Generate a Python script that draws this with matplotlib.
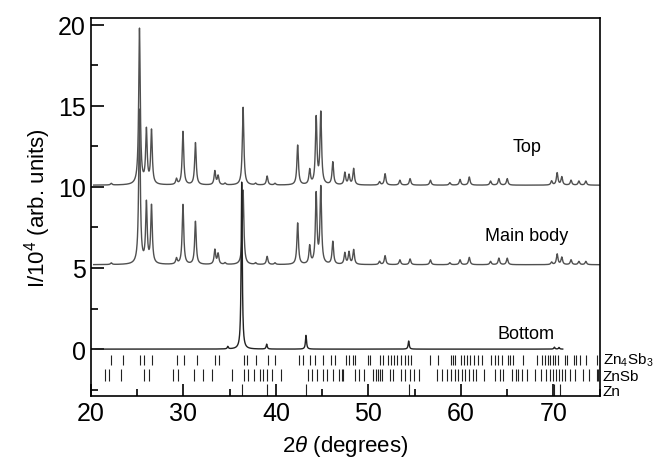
"""
XRD patterns of the Zn4Sb3 ingot (top / main body / bottom) with reference lines
"""

import numpy as np
import matplotlib.pyplot as plt
from matplotlib.ticker import MultipleLocator

plt.rcParams['font.family'] = ['Liberation Sans', 'DejaVu Sans']
plt.rcParams['mathtext.fontset'] = 'custom'
plt.rcParams['mathtext.rm'] = 'Liberation Sans'
plt.rcParams['mathtext.it'] = 'Liberation Sans:italic'

# peak positions (2theta), shared by top / main body
peak_pos = [22.2, 25.25, 26.0, 26.55, 29.25, 29.95, 31.3, 33.4, 33.75, 34.5,
            36.45, 37.8, 39.05, 39.9, 42.35, 43.65, 44.35, 44.85, 46.15, 47.45,
            47.9, 48.4, 51.2, 51.8, 53.4, 54.5, 56.7, 58.8, 59.9, 60.9,
            63.2, 64.1, 65.0, 69.8, 70.4, 70.9, 71.9, 72.75, 73.5]
# peak heights above background
top_h = [0.1, 9.6, 3.3, 3.3, 0.35, 3.3, 2.6, 0.85, 0.55, 0.1,
         4.8, 0.1, 0.55, 0.1, 2.45, 0.9, 4.1, 4.4, 1.4, 0.75,
         0.6, 1.0, 0.2, 0.7, 0.3, 0.4, 0.3, 0.15, 0.35, 0.5,
         0.25, 0.4, 0.4, 0.25, 0.75, 0.5, 0.3, 0.25, 0.25]
main_h = [0.1, 9.5, 3.7, 3.55, 0.35, 3.7, 2.65, 0.9, 0.65, 0.1,
          4.6, 0.1, 0.5, 0.1, 2.55, 1.1, 4.3, 4.7, 1.4, 0.7,
          0.75, 0.9, 0.2, 0.55, 0.3, 0.35, 0.3, 0.12, 0.3, 0.45,
          0.2, 0.4, 0.4, 0.15, 0.65, 0.45, 0.3, 0.2, 0.2]
top_bg = 10.1
main_bg = 5.2

# bottom (Zn-rich) pattern
bottom_pos = [34.8, 36.3, 39.0, 43.25, 54.35, 70.1, 70.6]
bottom_h = [0.15, 10.3, 0.3, 0.85, 0.5, 0.12, 0.1]

# reference line positions
zn4sb3_ref = [22.2, 23.5, 25.3, 25.7, 26.6, 29.3, 30.1, 31.5, 33.4, 33.8,
              36.6, 36.9, 37.8, 39.1, 39.9, 42.5, 42.9, 43.7, 44.2, 45.1,
              46.0, 46.4, 47.6, 47.9, 48.3, 48.6, 50.0, 50.2, 51.2, 51.6,
              52.1, 52.4, 52.8, 53.1, 53.5, 54.0, 54.3, 54.6, 56.7, 57.5,
              58.9, 59.1, 59.4, 60.0, 60.3, 60.7, 61.0, 61.4, 61.8, 62.3,
              63.3, 63.7, 64.0, 64.4, 65.1, 65.3, 65.6, 66.7, 68.2, 68.8,
              69.1, 69.4, 69.6, 69.9, 70.2, 70.5, 71.2, 71.5, 72.2, 72.4,
              72.9, 73.5, 74.7]
znsb_ref = [21.5, 22.0, 23.2, 25.7, 26.3, 28.9, 29.4, 31.1, 32.1, 33.1,
            35.3, 36.6, 37.0, 37.6, 38.3, 38.6, 39.0, 39.6, 40.6, 43.5,
            43.9, 44.4, 45.1, 45.5, 46.2, 46.8, 47.1, 47.3, 48.5, 49.0,
            49.5, 50.5, 50.8, 51.0, 51.3, 51.5, 52.3, 52.7, 53.5, 54.0,
            54.5, 54.9, 55.5, 57.4, 57.9, 58.5, 58.9, 59.4, 59.7, 60.1,
            60.4, 60.9, 61.3, 61.6, 62.5, 63.7, 64.2, 64.5, 65.5, 65.9,
            66.2, 66.6, 67.1, 68.0, 68.7, 69.2, 69.6, 70.0, 70.3, 70.6,
            70.9, 71.3, 71.8, 72.3, 73.2, 73.8, 74.7, 74.85]
zn_ref = [36.3, 38.99, 43.23, 54.34, 70.07, 70.66]


def profile(x, pos, h, w):
    y = np.zeros_like(x)
    for p, a in zip(pos, h):
        y += a / (1 + ((x - p) / w) ** 2)
    return y


x = np.linspace(20.3, 75, 4000)
xb = np.linspace(20.5, 71, 4000)

fig = plt.figure(figsize=(6.54, 4.64), dpi=100)
ax = fig.add_axes([0.139, 0.144, 0.778, 0.815])

ax.plot(x, top_bg + profile(x, peak_pos, top_h, 0.1), color='#505050', lw=1.0)
ax.plot(x, main_bg + profile(x, peak_pos, main_h, 0.1), color='#505050', lw=1.0)
ax.plot(xb, profile(xb, bottom_pos, bottom_h, 0.07), color='#222222', lw=1.0)

ax.vlines(zn4sb3_ref, -1.0, -0.35, color='#222222', lw=0.8)
ax.vlines(znsb_ref, -1.98, -1.23, color='#222222', lw=0.8)
ax.vlines(zn_ref, -2.9, -2.16, color='#222222', lw=0.8)

ax.text(67.1, 12.5, 'Top', ha='center', va='center', fontsize=13)
ax.text(67.1, 7.0, 'Main body', ha='center', va='center', fontsize=13)
ax.text(67.0, 0.95, 'Bottom', ha='center', va='center', fontsize=13)

ax.text(1.006, -0.65, 'Zn$_4$Sb$_3$', transform=ax.get_yaxis_transform(),
        fontsize=11, va='center', ha='left', clip_on=False)
ax.text(1.006, -1.65, 'ZnSb', transform=ax.get_yaxis_transform(),
        fontsize=11, va='center', ha='left', clip_on=False)
ax.text(1.006, -2.6, 'Zn', transform=ax.get_yaxis_transform(),
        fontsize=11, va='center', ha='left', clip_on=False)

ax.set_xlim(20, 75)
ax.set_ylim(-2.9, 20.4)
ax.xaxis.set_major_locator(MultipleLocator(10))
ax.xaxis.set_minor_locator(MultipleLocator(5))
ax.yaxis.set_major_locator(MultipleLocator(5))
ax.yaxis.set_minor_locator(MultipleLocator(2.5))
ax.tick_params(which='both', direction='in', top=False, right=False,
               labelsize=18, width=1.2)
ax.tick_params(which='major', length=9)
ax.tick_params(which='minor', length=5)
for s in ax.spines.values():
    s.set_linewidth(1.2)

ax.set_xlabel(r'2$\theta$ (degrees)', fontsize=16, labelpad=6)
ax.set_ylabel('I/10$^4$ (arb. units)', fontsize=16, labelpad=4)

plt.savefig('out.png', dpi=100)
